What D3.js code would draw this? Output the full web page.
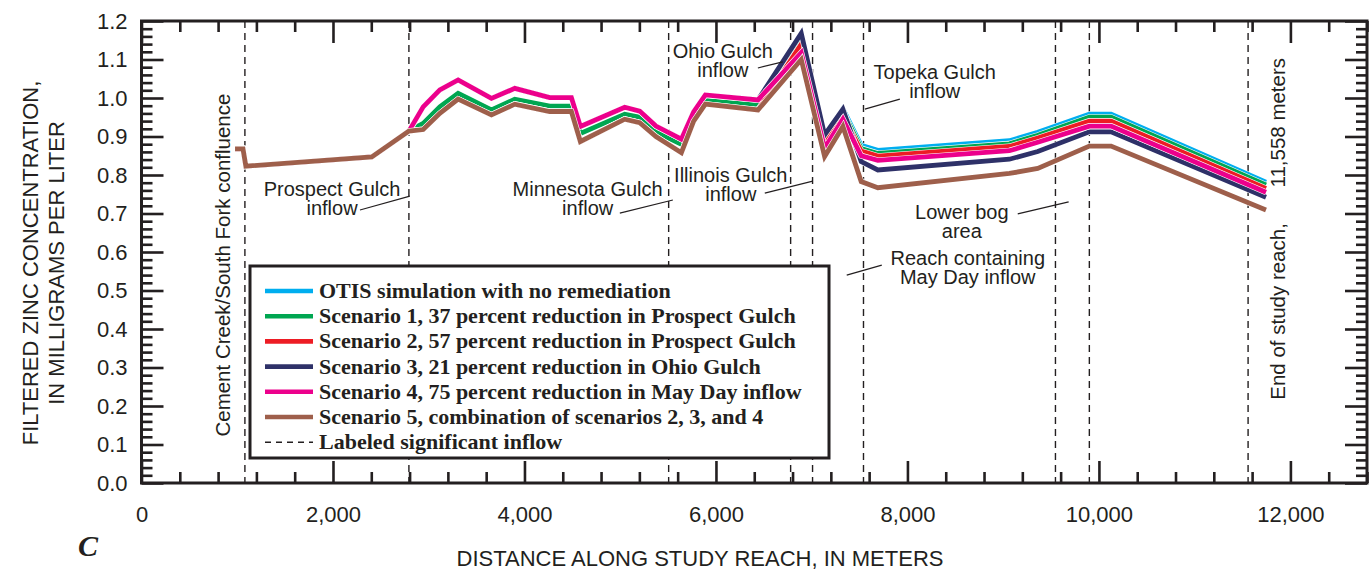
<!DOCTYPE html>
<html>
<head>
<meta charset="utf-8">
<script src="https://cdn.jsdelivr.net/npm/d3@7"></script>
<style>
  body { margin: 0; background: #fff; }
  svg text { fill: #231f20; }
</style>
</head>
<body>
<div id="chart1"></div>
<script>
var width = 1371;
var height = 579;

// distance along study reach, meters
const distance = [977, 1060, 1090, 2405, 2793, 2942, 3116, 3307, 3655, 3899, 4264, 4490, 4584, 5047, 5204,
    5373, 5639, 5767, 5889, 6439, 6891, 7135, 7326, 7517, 7691, 9065, 9361, 9900, 10127, 11745];

// filtered zinc, mg/L
const otis = [0.868, 0.868, 0.823, 0.847, 0.914, 0.977, 1.021, 1.047, 0.999, 1.025, 1.001, 1.001, 0.926, 0.976, 0.966,
    0.927, 0.893, 0.964, 1.008, 0.995, 1.165, 0.900, 0.972, 0.877, 0.864, 0.889, 0.911, 0.958, 0.958, 0.781];
const scenario1 = [0.868, 0.868, 0.823, 0.847, 0.914, 0.934, 0.977, 1.012, 0.969, 0.997, 0.979, 0.979, 0.908, 0.958, 0.950,
    0.912, 0.880, 0.950, 0.995, 0.982, 1.150, 0.895, 0.965, 0.869, 0.856, 0.881, 0.903, 0.950, 0.950, 0.774];
const scenario2 = [0.868, 0.868, 0.823, 0.847, 0.914, 0.918, 0.960, 0.997, 0.956, 0.984, 0.965, 0.965, 0.887, 0.945, 0.936,
    0.900, 0.858, 0.940, 0.984, 0.969, 1.140, 0.890, 0.955, 0.862, 0.849, 0.874, 0.896, 0.940, 0.940, 0.765];
const scenario3 = [0.868, 0.868, 0.823, 0.847, 0.914, 0.977, 1.021, 1.047, 0.999, 1.025, 1.001, 1.001, 0.926, 0.976, 0.966,
    0.927, 0.893, 0.964, 1.008, 0.995, 1.168, 0.904, 0.971, 0.835, 0.813, 0.841, 0.861, 0.912, 0.912, 0.742];
const scenario4 = [0.868, 0.868, 0.823, 0.847, 0.914, 0.977, 1.021, 1.047, 0.999, 1.025, 1.001, 1.001, 0.926, 0.976, 0.966,
    0.927, 0.893, 0.964, 1.008, 0.995, 1.118, 0.870, 0.945, 0.850, 0.838, 0.863, 0.885, 0.927, 0.927, 0.755];
const scenario5 = [0.868, 0.868, 0.823, 0.847, 0.914, 0.918, 0.960, 0.997, 0.956, 0.984, 0.965, 0.965, 0.887, 0.945, 0.936,
    0.900, 0.858, 0.940, 0.984, 0.969, 1.100, 0.848, 0.926, 0.783, 0.767, 0.804, 0.817, 0.875, 0.875, 0.709];

const seriesNames = [
    "OTIS simulation with no remediation",
    "Scenario 1, 37 percent reduction in Prospect Gulch",
    "Scenario 2, 57 percent reduction in Prospect Gulch",
    "Scenario 3, 21 percent reduction in Ohio Gulch",
    "Scenario 4, 75 percent reduction in May Day inflow",
    "Scenario 5, combination of scenarios 2, 3, and 4"
];
const seriesValues = [otis, scenario1, scenario2, scenario3, scenario4, scenario5];
const seriesColors = ["#00aeef", "#00a651", "#ed1c24", "#2e3168", "#ec008c", "#9e5f4b"];

// labeled significant inflows (dashed lines), meters
const inflows = [1080, 2793, 5506, 6780, 7009, 7541, 9546, 9900, 11558];

const xTicks = [0, 2000, 4000, 6000, 8000, 10000, 12000];
const yTicks = [0.0, 0.1, 0.2, 0.3, 0.4, 0.5, 0.6, 0.7, 0.8, 0.9, 1.0, 1.1, 1.2];

// annotation text, anchored in data units
const notes = [
    { lines: ["Prospect Gulch", "inflow"], x: 1990, y: 0.745, leader: [[2282, 0.709], [2803, 0.745]] },
    { lines: ["Minnesota Gulch", "inflow"], x: 4660, y: 0.745, leader: [[4996, 0.701], [5550, 0.735]] },
    { lines: ["Illinois Gulch", "inflow"], x: 6155, y: 0.782, leader: [[6510, 0.753], [7011, 0.784]] },
    { lines: ["Ohio Gulch", "inflow"], x: 6072, y: 1.104, leader: [[6438, 1.078], [6698, 1.094]] },
    { lines: ["Topeka Gulch", "inflow"], x: 8285, y: 1.049, leader: [[7555, 0.971], [7921, 0.997]] },
    { lines: ["Lower bog", "area"], x: 8568, y: 0.686, leader: [[9152, 0.699], [9684, 0.730]] },
    { lines: ["Reach containing", "May Day inflow"], x: 8630, y: 0.566, leader: [[7366, 0.540], [7732, 0.566]] }
];

var plotLeft = 141.5, plotRight = 1367, plotTop = 21, plotBottom = 483;

var xScale = d3.scaleLinear().domain([0, 12800]).range([plotLeft, plotRight]);
var yScale = d3.scaleLinear().domain([0, 1.2]).range([plotBottom, plotTop]);

var svg = d3.select("#chart1")
    .append("svg")
    .attr("width", width)
    .attr("height", height)
    .style("font-family", "'Liberation Sans', Arial, sans-serif");

var xMinor = d3.range(0, 12801, 400).filter(function(v) { return v % 2000 != 0; });
var yMinor = d3.range(0, 61, 1).filter(function(i) { return i % 5 != 0; }).map(function(i) { return i / 50; });

function styleAxis(g) {
    g.select(".domain").remove();
    g.selectAll(".tick line").attr("stroke", "#231f20").attr("stroke-width", 2.6);
    g.selectAll(".tick text").attr("fill", "#231f20").style("font-size", "22px")
        .style("font-family", "'Liberation Sans', Arial, sans-serif");
}

// inward ticks on all four sides
svg.append("g").attr("transform", "translate(0," + plotBottom + ")")
    .call(d3.axisBottom(xScale).tickValues(xTicks).tickSize(-22).tickPadding(23).tickFormat(d3.format(",")))
    .call(styleAxis);
svg.append("g").attr("transform", "translate(0," + plotBottom + ")")
    .call(d3.axisBottom(xScale).tickValues(xMinor).tickSize(-11).tickFormat(""))
    .call(styleAxis);
svg.append("g").attr("transform", "translate(0," + plotTop + ")")
    .call(d3.axisTop(xScale).tickValues(xTicks).tickSize(-22).tickFormat(""))
    .call(styleAxis);
svg.append("g").attr("transform", "translate(0," + plotTop + ")")
    .call(d3.axisTop(xScale).tickValues(xMinor).tickSize(-11).tickFormat(""))
    .call(styleAxis);

svg.append("g").attr("transform", "translate(" + plotLeft + ",0)")
    .call(d3.axisLeft(yScale).tickValues(yTicks).tickSize(-22).tickPadding(14).tickFormat(d3.format(".1f")))
    .call(styleAxis);
svg.append("g").attr("transform", "translate(" + plotLeft + ",0)")
    .call(d3.axisLeft(yScale).tickValues(yMinor).tickSize(-11).tickFormat(""))
    .call(styleAxis);
svg.append("g").attr("transform", "translate(" + plotRight + ",0)")
    .call(d3.axisRight(yScale).tickValues(yTicks).tickSize(-22).tickFormat(""))
    .call(styleAxis);
svg.append("g").attr("transform", "translate(" + plotRight + ",0)")
    .call(d3.axisRight(yScale).tickValues(yMinor).tickSize(-11).tickFormat(""))
    .call(styleAxis);

// dashed inflow lines
svg.selectAll(".inflow")
    .data(inflows)
    .enter()
    .append("line")
    .attr("x1", function(d) { return xScale(d); })
    .attr("x2", function(d) { return xScale(d); })
    .attr("y1", yScale(1.2))
    .attr("y2", yScale(0))
    .attr("stroke", "#231f20")
    .attr("stroke-width", 1.4)
    .attr("stroke-dasharray", "7,5");

// simulation lines, each with a thin white casing
var line = d3.line()
    .x(function(d, i) { return xScale(distance[i]); })
    .y(function(d) { return yScale(d); });

seriesValues.forEach(function(vals, k) {
    svg.append("path")
        .attr("d", line(vals))
        .attr("fill", "none")
        .attr("stroke", "#fff")
        .attr("stroke-width", 6);
    svg.append("path")
        .attr("d", line(vals))
        .attr("fill", "none")
        .attr("stroke", seriesColors[k])
        .attr("stroke-width", 4.8);
});

// annotations
notes.forEach(function(n) {
    var t = svg.append("text")
        .attr("x", xScale(n.x))
        .attr("y", yScale(n.y))
        .attr("text-anchor", "middle")
        .style("font-size", "20px");
    n.lines.forEach(function(s, i) {
        t.append("tspan").attr("x", xScale(n.x)).attr("dy", i == 0 ? 0 : 19).text(s);
    });
    svg.append("line")
        .attr("x1", xScale(n.leader[0][0])).attr("y1", yScale(n.leader[0][1]))
        .attr("x2", xScale(n.leader[1][0])).attr("y2", yScale(n.leader[1][1]))
        .attr("stroke", "#231f20").attr("stroke-width", 1.2);
});

svg.append("text")
    .attr("transform", "translate(" + xScale(924) + "," + yScale(0.566) + ") rotate(-90)")
    .attr("text-anchor", "middle")
    .style("font-size", "20.5px")
    .text("Cement Creek/South Fork confluence");

// end of reach label, two pieces on one baseline
svg.append("text")
    .attr("transform", "translate(" + xScale(11940) + "," + yScale(0.675) + ") rotate(-90)")
    .attr("text-anchor", "end")
    .style("font-size", "20.5px")
    .text("End of study reach,");
svg.append("text")
    .attr("transform", "translate(" + xScale(11940) + "," + yScale(1.104) + ") rotate(-90)")
    .attr("text-anchor", "end")
    .style("font-size", "20.5px")
    .text("11,558 meters");

// frame
svg.append("rect")
    .attr("x", plotLeft).attr("y", plotTop)
    .attr("width", plotRight - plotLeft).attr("height", plotBottom - plotTop)
    .attr("fill", "none").attr("stroke", "#231f20").attr("stroke-width", 3);

// legend
var legend = svg.append("g");
legend.append("rect")
    .attr("x", 250).attr("y", 266).attr("width", 579).attr("height", 192)
    .attr("fill", "#fff").attr("stroke", "#231f20").attr("stroke-width", 3);

var legendRows = seriesNames.concat(["Labeled significant inflow"]);
legendRows.forEach(function(name, i) {
    var ly = 291 + i * 25.2;
    legend.append("line")
        .attr("x1", 265).attr("x2", 313).attr("y1", ly).attr("y2", ly)
        .attr("stroke", i < 6 ? seriesColors[i] : "#231f20")
        .attr("stroke-width", i < 6 ? 4.6 : 1.4)
        .attr("stroke-dasharray", i < 6 ? null : "6,5");
    legend.append("text")
        .attr("x", 319).attr("y", ly + 7)
        .style("font-family", "'Liberation Serif', 'Times New Roman', serif")
        .style("font-weight", "bold")
        .style("font-size", "22px")
        .text(name);
});

// axis titles
svg.append("text")
    .attr("transform", "translate(38,263) rotate(-90)")
    .attr("text-anchor", "middle")
    .style("font-size", "22px")
    .text("FILTERED ZINC CONCENTRATION,");
svg.append("text")
    .attr("transform", "translate(64,263) rotate(-90)")
    .attr("text-anchor", "middle")
    .style("font-size", "22px")
    .text("IN MILLIGRAMS PER LITER");

svg.append("text")
    .attr("x", 700).attr("y", 566)
    .attr("text-anchor", "middle")
    .style("font-size", "22px")
    .text("DISTANCE ALONG STUDY REACH, IN METERS");

svg.append("text")
    .attr("x", 78).attr("y", 556)
    .style("font-family", "'Liberation Serif', 'Times New Roman', serif")
    .style("font-weight", "bold")
    .style("font-style", "italic")
    .style("font-size", "30px")
    .text("C");
</script>
</body>
</html>
